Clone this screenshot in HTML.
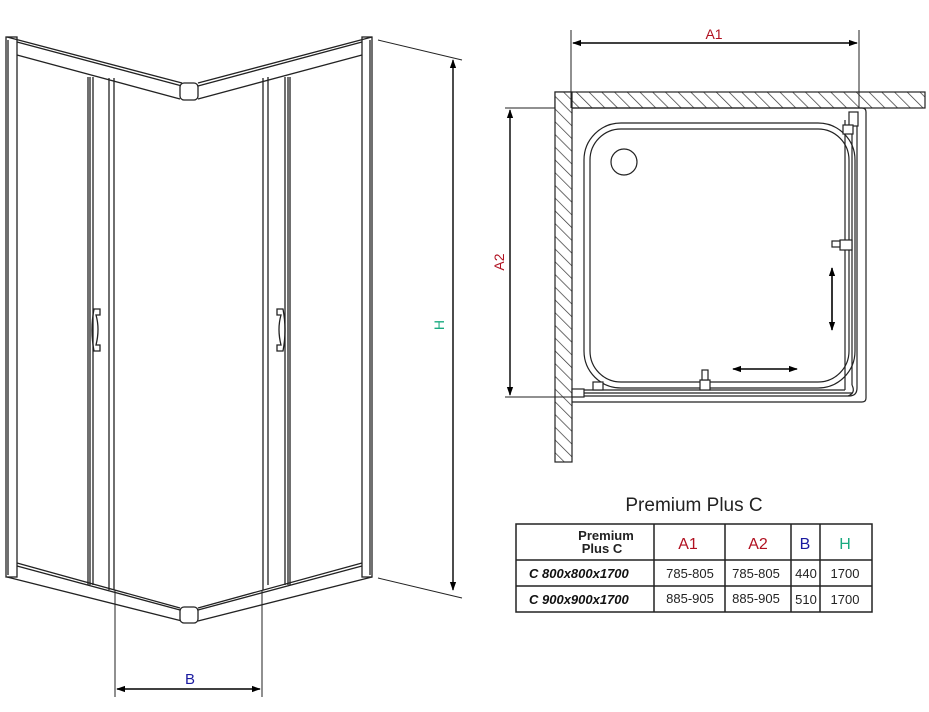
<!DOCTYPE html>
<html><head><meta charset="utf-8"><style>
html,body{margin:0;padding:0;background:#fff;}
svg{display:block;}
text{font-family:"Liberation Sans",sans-serif;}
</style></head><body>
<svg width="929" height="712" viewBox="0 0 929 712" xmlns="http://www.w3.org/2000/svg">
<defs>
<pattern id="h" patternUnits="userSpaceOnUse" width="9" height="9" patternTransform="rotate(-45)">
<rect width="9" height="9" fill="#fff"/><line x1="0" y1="0" x2="0" y2="9" stroke="#333" stroke-width="1.4"/>
</pattern>
<marker id="a" viewBox="0 0 10 10" refX="9" refY="5" markerWidth="9" markerHeight="9" orient="auto-start-reverse" markerUnits="userSpaceOnUse"><path d="M0,1.5 L10,5 L0,8.5 Z" fill="#000"/></marker>
</defs>
<g fill="none" stroke="#222" stroke-width="1.3">
<!-- posts -->
<rect x="6" y="37" width="11" height="540" fill="#fff"/>
<line x1="8" y1="40" x2="8" y2="575"/>
<rect x="362" y="37" width="10" height="540" fill="#fff"/>
<line x1="370" y1="40" x2="370" y2="575"/>
<!-- top rails -->
<path d="M7,37 L182,83 M17,42 L182,86 M17,55 L180,99"/>
<path d="M198,83 L372,37 M198,86 L362,42 M198,99 L362,55"/>
<rect x="180" y="83" width="18" height="17" rx="4" fill="#fff"/>
<!-- bottom rails -->
<path d="M7,577 L182,621 M17,563 L180,608 M17,566 L180,610"/>
<path d="M198,621 L372,577 M198,608 L362,563 M198,610 L362,566"/>
<rect x="180" y="607" width="18" height="16" rx="4" fill="#fff"/>
<!-- mullions -->
<path d="M88,77 V585 M90,77 V585 M93,77 V585 M109,78 V590 M114,78 V590"/>
<path d="M263,78 V590 M268,77 V585 M285,77 V585 M288,77 V585 M290,77 V585"/>
<!-- handles -->
<path d="M94,309 h6 v6 h-4 q4,14 0,30 h4 v6 h-6 q-4,-21 0,-42 Z"/>
<path d="M277,309 h6 q4,21 0,42 h-6 v-6 h4 q-4,-16 0,-30 h-4 Z"/>
<!-- H dimension -->
<path d="M378,40 L462,60 M378,578 L462,598" stroke-width="1"/>
</g>
<line x1="453" y1="60" x2="453" y2="590" stroke="#000" stroke-width="1.4" marker-start="url(#a)" marker-end="url(#a)"/>
<text x="0" y="0" transform="translate(444,325) rotate(-90)" font-size="14" fill="#1aaa80" text-anchor="middle">H</text>
<!-- B dimension -->
<path d="M115,590 V697 M262,590 V697" stroke="#222" stroke-width="1"/>
<line x1="117" y1="689" x2="260" y2="689" stroke="#000" stroke-width="1.4" marker-start="url(#a)" marker-end="url(#a)"/>
<text x="190" y="684" font-size="15" fill="#1a1aa0" text-anchor="middle">B</text>

<!-- plan view -->
<rect x="555" y="92" width="370" height="16" fill="url(#h)" stroke="#222" stroke-width="1.2"/>
<rect x="555" y="92" width="17" height="370" fill="url(#h)" stroke="#222" stroke-width="1.2"/>
<rect x="556" y="93" width="15" height="14" fill="url(#h)" stroke="none"/>
<path d="M571,30 V108 M859,30 V108" stroke="#222"/>
<line x1="573" y1="43" x2="857" y2="43" stroke="#000" stroke-width="1.4" marker-start="url(#a)" marker-end="url(#a)"/>
<text x="714" y="39" font-size="14" fill="#b01020" text-anchor="middle">A1</text>
<path d="M505,108 H555 M505,397 H572" stroke="#222"/>
<line x1="510" y1="110" x2="510" y2="395" stroke="#000" stroke-width="1.4" marker-start="url(#a)" marker-end="url(#a)"/>
<text x="0" y="0" transform="translate(504,262) rotate(-90)" font-size="14" fill="#b01020" text-anchor="middle">A2</text>
<g fill="none" stroke="#222" stroke-width="1.2">
<path d="M572,108 H862 Q866,108 866,112 V398 Q866,402 862,402 H572"/>
<rect x="584" y="123" width="271" height="265" rx="37"/>
<rect x="590" y="129" width="259" height="253" rx="31"/>
<circle cx="624" cy="162" r="13"/>
<path d="M849,113 H857 V388 Q857,396 849,396 H580" />
<path d="M845,120 V390 M852,115 V385 M578,390 H845 M578,393 H852"/>
<rect x="572" y="389" width="12" height="8" fill="#fff"/>
<rect x="849" y="112" width="9" height="14" fill="#fff"/>
<rect x="843" y="125" width="10" height="9" fill="#fff"/>
<rect x="840" y="240" width="12" height="10" fill="#fff"/>
<rect x="832" y="241" width="8" height="6" fill="#fff"/>
<rect x="700" y="380" width="10" height="10" fill="#fff"/>
<rect x="702" y="370" width="6" height="10" fill="#fff"/>
<rect x="593" y="382" width="10" height="8" fill="#fff"/>
<path d="M852,385 Q856,393 848,396"/>
</g>
<line x1="832" y1="268" x2="832" y2="330" stroke="#000" stroke-width="1.6" marker-start="url(#a)" marker-end="url(#a)"/>
<line x1="733" y1="369" x2="797" y2="369" stroke="#000" stroke-width="1.6" marker-start="url(#a)" marker-end="url(#a)"/>

<!-- table -->
<text x="694" y="511" font-size="19" fill="#222" text-anchor="middle">Premium Plus C</text>
<g stroke="#222" stroke-width="1.5" fill="none">
<rect x="516" y="524" width="356" height="88"/>
<path d="M516,560 H872 M516,586 H872 M654,524 V612 M725,524 V612 M791,524 V612 M820,524 V612"/>
</g>
<g font-size="13" font-weight="bold" fill="#222" text-anchor="middle">
<text x="606" y="540">Premium</text><text x="602" y="553">Plus C</text>
</g>
<g font-size="16" text-anchor="middle">
<text x="688" y="549" fill="#b01020">A1</text>
<text x="758" y="549" fill="#b01020">A2</text>
<text x="805" y="549" fill="#1a1aa0">B</text>
<text x="845" y="549" fill="#1aaa80">H</text>
</g>
<g font-size="13" font-weight="bold" font-style="italic" fill="#111">
<text x="529" y="578">C 800x800x1700</text>
<text x="529" y="604">C 900x900x1700</text>
</g>
<g font-size="13" fill="#222" text-anchor="middle">
<text x="690" y="578">785-805</text><text x="756" y="578">785-805</text><text x="806" y="578">440</text><text x="845" y="578">1700</text>
<text x="690" y="603">885-905</text><text x="756" y="603">885-905</text><text x="806" y="604">510</text><text x="845" y="604">1700</text>
</g>
</svg>
</body></html>
